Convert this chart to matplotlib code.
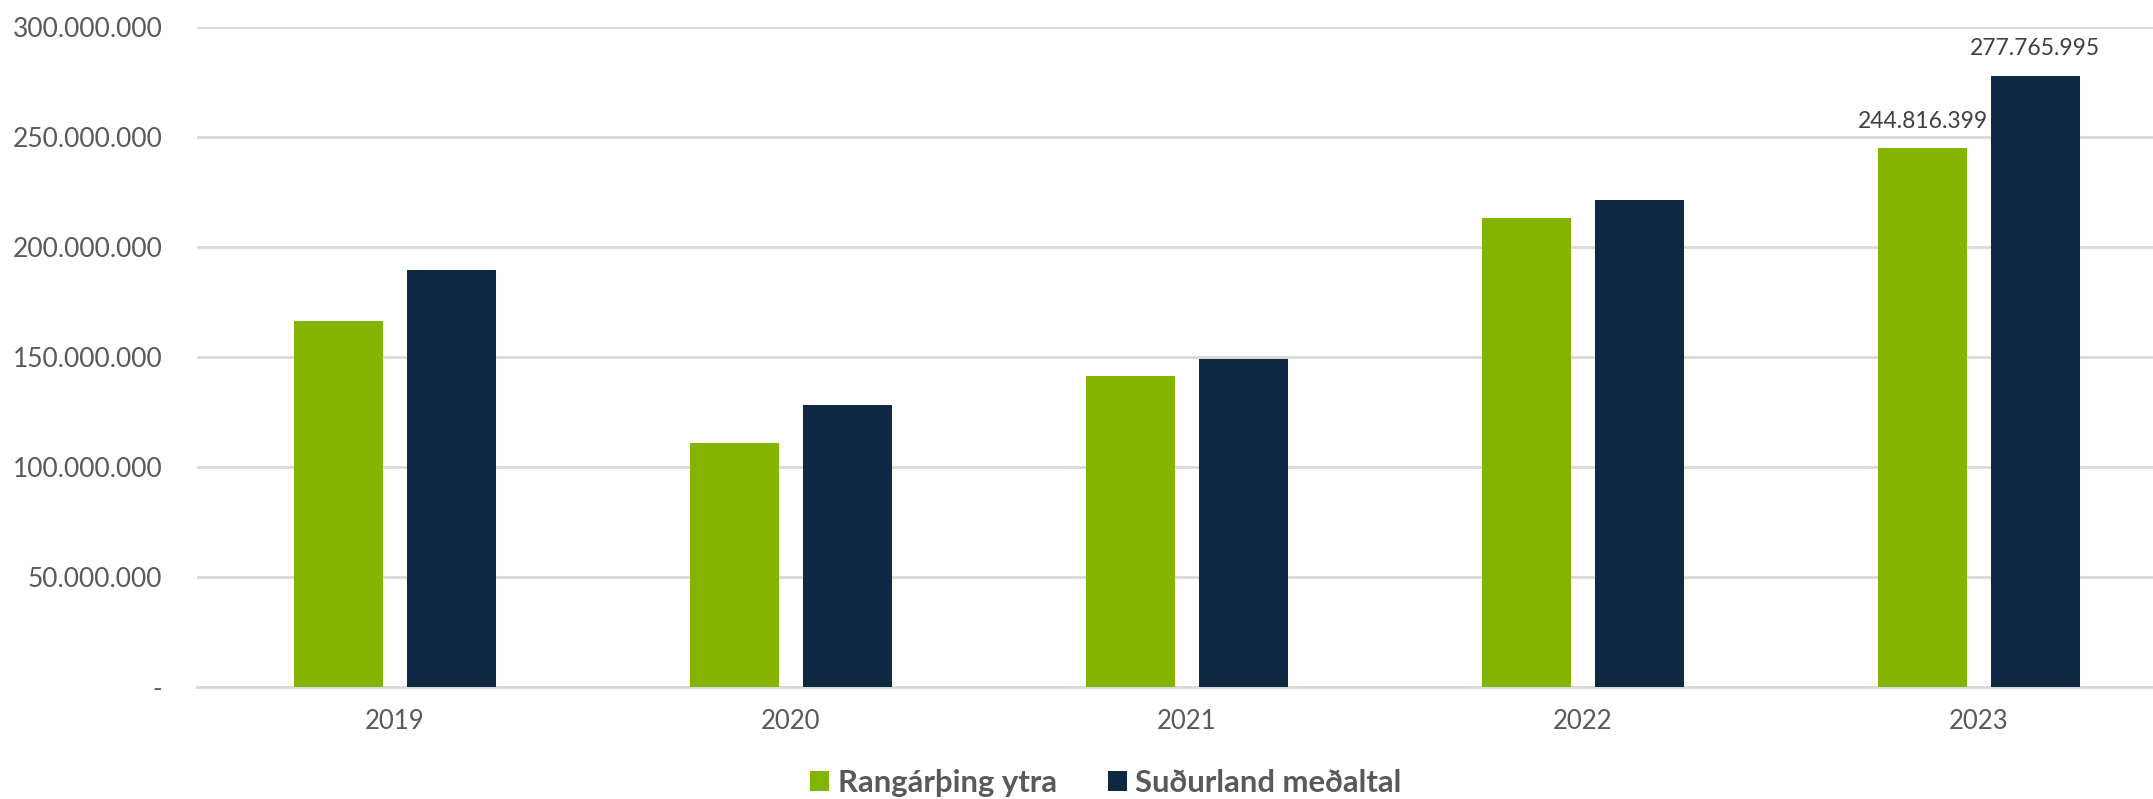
import numpy as np
import matplotlib
matplotlib.use("Agg")
import matplotlib.pyplot as plt
from matplotlib.ticker import FuncFormatter

years = ["2019", "2020", "2021", "2022", "2023"]
rangarthing = [166.4e6, 110.9e6, 141.5e6, 213.3e6, 244816399]
sudurland = [189.4e6, 128.2e6, 149.1e6, 221.2e6, 277765995]
series_names = ["Rangárþing ytra", "Suðurland meðaltal"]
colors = ["#84b400", "#0f2942"]

plt.rcParams['font.family'] = ['Lato', 'DejaVu Sans']

W, H = 2153, 799
fig = plt.figure(figsize=(W / 100, H / 100), dpi=100)
ax = fig.add_axes([197 / W, 1 - 687 / H, 1 - 197 / W, (687 - 27) / H])

x = np.arange(len(years))
width = 0.225
off = 0.142
b1 = ax.bar(x - off, rangarthing, width, color=colors[0], label=series_names[0], zorder=3)
b2 = ax.bar(x + off, sudurland, width, color=colors[1], label=series_names[1], zorder=3)

def fmt(v, pos=None):
    if v == 0:
        return "-"
    return f"{v:,.0f}".replace(",", ".")

# value labels only on the last year
for bars in (b1, b2):
    r = bars[-1]
    ax.annotate(fmt(r.get_height()), (r.get_x() + r.get_width() / 2, r.get_height()),
                xytext=(0, 12), textcoords="offset points", ha="center", va="bottom",
                fontsize=16.5, color="#404040", zorder=4)

ax.set_ylim(0, 300e6)
ax.set_xlim(-0.5, -0.5 + (W - 197) / 396)
ax.set_yticks(np.arange(0, 300e6 + 1, 50e6))
ax.yaxis.set_major_formatter(FuncFormatter(fmt))
ax.set_xticks(x)
ax.set_xticklabels(years)
ax.tick_params(axis="y", length=0, pad=25, labelsize=19, labelcolor="#595959")
ax.tick_params(axis="x", length=0, pad=16, labelsize=18.5, labelcolor="#595959")
ax.grid(axis="y", color="#d9d9d9", linewidth=2, zorder=0)
for s in ["top", "right", "left"]:
    ax.spines[s].set_visible(False)
ax.spines["bottom"].set_color("#d9d9d9")
ax.spines["bottom"].set_linewidth(2)

leg = fig.legend(loc="center", bbox_to_anchor=(1106 / W, 1 - 783 / H), ncol=2, frameon=False,
                 handlelength=0.6, handleheight=0.6, handletextpad=0.28, columnspacing=1.65,
                 borderpad=0, prop={"weight": "bold", "size": 22.3})
for t in leg.get_texts():
    t.set_color("#595959")

fig.savefig("out.png", dpi=100)
